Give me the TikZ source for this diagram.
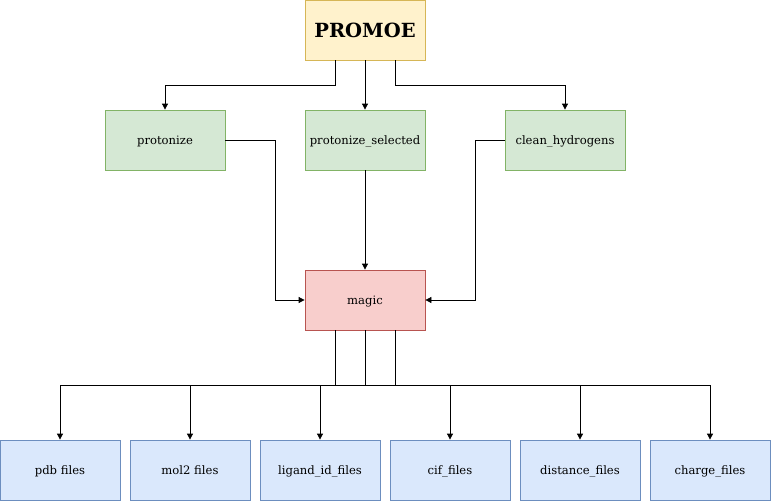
\documentclass[tikz,border=0pt]{standalone}
\usepackage{fontspec}
\setmainfont{DejaVu Serif}
\usetikzlibrary{arrows.meta}
\definecolor{yfill}{HTML}{FFF2CC}\definecolor{ydraw}{HTML}{D6B656}
\definecolor{gfill}{HTML}{D5E8D4}\definecolor{gdraw}{HTML}{82B366}
\definecolor{rfill}{HTML}{F8CECC}\definecolor{rdraw}{HTML}{B85450}
\definecolor{bfill}{HTML}{DAE8FC}\definecolor{bdraw}{HTML}{6C8EBF}
\tikzset{
  box/.style={draw, line width=0.8pt, minimum width=120pt, minimum height=60pt, inner sep=0pt, text height=10pt, text depth=1pt, font=\fontsize{11.6}{13}\selectfont},
  ybox/.style={box, fill=yfill, draw=ydraw},
  gbox/.style={box, fill=gfill, draw=gdraw},
  rbox/.style={box, fill=rfill, draw=rdraw},
  bbox/.style={box, fill=bfill, draw=bdraw},
  conn/.style={line width=0.8pt, -{Triangle[length=6pt,width=6pt]}},
}
\begin{document}
\begin{tikzpicture}[x=1pt,y=-1pt]
\useasboundingbox (0,0) rectangle (771,501);
\node[ybox, text height=15pt, text depth=0pt, font=\fontsize{19.5}{22}\selectfont\bfseries] (promoe) at (365,30) {PROMOE};
\node[gbox] (prot) at (165,140) {protonize};
\node[gbox] (psel) at (365,140) {protonize\_selected};
\node[gbox] (clean) at (565,140) {clean\_hydrogens};
\node[rbox] (magic) at (365,300) {magic};
\node[bbox] (pdb) at (60,470) {pdb files};
\node[bbox] (mol2) at (190,470) {mol2 files};
\node[bbox] (lig) at (320,470) {ligand\_id\_files};
\node[bbox] (cif) at (450,470) {cif\_files};
\node[bbox] (dist) at (580,470) {distance\_files};
\node[bbox] (charge) at (710,470) {charge\_files};
% top edges
\draw[conn] ([xshift=-30pt]promoe.south) |- (165,85) -- (prot.north);
\draw[conn] (promoe.south) -- (psel.north);
\draw[conn] ([xshift=30pt]promoe.south) |- (565,85) -- (clean.north);
% to magic
\draw[conn] (prot.east) -- (275,140) |- (magic.west);
\draw[conn] (psel.south) -- (magic.north);
\draw[conn] (clean.west) -- (475,140) |- (magic.east);
% magic to outputs
\coordinate (m1) at ([xshift=-30pt]magic.south);
\coordinate (m2) at (magic.south);
\coordinate (m3) at ([xshift=30pt]magic.south);
\draw[conn] (m1) -- (335,385) -| (pdb.north);
\draw[conn] (m1) -- (335,385) -| (mol2.north);
\draw[conn] (m2) -- (365,385) -| (lig.north);
\draw[conn] (m2) -- (365,385) -| (cif.north);
\draw[conn] (m3) -- (395,385) -| (dist.north);
\draw[conn] (m3) -- (395,385) -| (charge.north);
\end{tikzpicture}
\end{document}
